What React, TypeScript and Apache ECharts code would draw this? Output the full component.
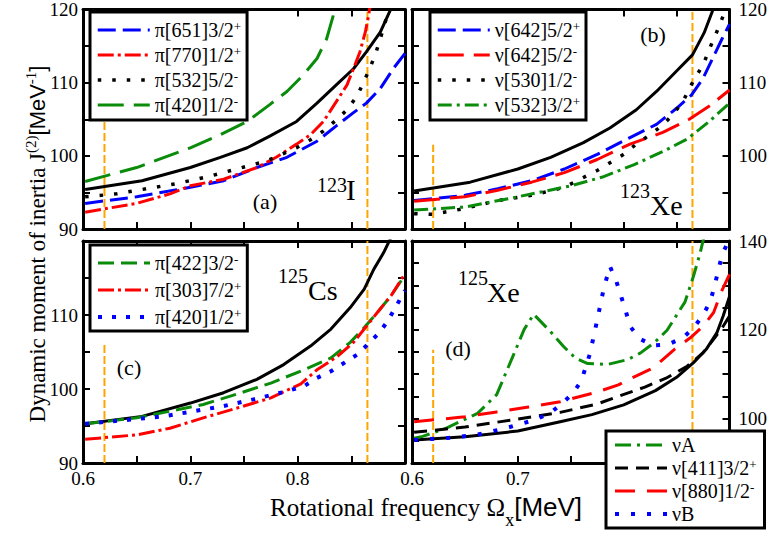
import React, { useEffect, useRef } from "react";
import * as echarts from "echarts";

const SERIF = '"Liberation Serif", "Times New Roman", Times, serif';
const SANS = '"Liberation Sans", Arial, Helvetica, sans-serif';

type Pt = [number, number];

// ---- axis ticks / labels ----
const X_MIN = 0.6;
const X_MAX = 0.9;
const X_STEP = 0.05;
const Y_STEP = 5;
const aLabelsY = [90, 100, 110, 120];
const bLabelsY = [100, 110, 120];
const cLabelsY = [90, 100, 110];
const dLabelsY = [100, 120, 140];
const cLabelsX = [0.6, 0.7, 0.8];
const dLabelsX = [0.6, 0.7];
const yRangeABC: Pt = [90, 120];
const yRangeD: Pt = [90, 140];

// ---- orange reference lines (x positions, top of the short left line per panel) ----
const orangeX = [0.62, 0.865];
const orangeLeftTop = [120, 101.5, 106, 115.5];

// ---- panel (a) 123I ----
const aYrast: Pt[] = [[0.602, 95.4], [0.655, 96.6], [0.7, 98.4], [0.728, 99.8], [0.753, 101.1], [0.774, 102.7], [0.799, 104.7], [0.818, 107.2], [0.836, 109.7], [0.852, 111.9], [0.864, 114.2], [0.877, 116.9], [0.886, 119.8], [0.889, 121]];
const aPi651: Pt[] = [[0.602, 93.5], [0.65, 94.4], [0.7, 95.7], [0.731, 96.6], [0.762, 98.4], [0.79, 99.8], [0.818, 102.0], [0.836, 104.1], [0.852, 105.9], [0.864, 107.2], [0.877, 109.2], [0.889, 111.9], [0.9, 114.0]];
const aPi770: Pt[] = [[0.602, 92.3], [0.65, 93.5], [0.681, 94.8], [0.7, 95.9], [0.731, 96.8], [0.762, 98.4], [0.78, 99.8], [0.799, 101.6], [0.812, 102.9], [0.824, 104.7], [0.836, 107.4], [0.846, 109.7], [0.852, 111.9], [0.858, 114.2], [0.863, 116.9], [0.866, 119.1], [0.868, 121]];
const aPi532: Pt[] = [[0.602, 94.4], [0.631, 94.8], [0.659, 95.5], [0.687, 96.2], [0.715, 97.1], [0.743, 98.2], [0.771, 99.3], [0.799, 101.1], [0.812, 102.2], [0.824, 103.4], [0.836, 104.9], [0.846, 106.3], [0.855, 108.1], [0.861, 109.9], [0.867, 111.9], [0.872, 113.7], [0.877, 116.0], [0.883, 119.0]];
const aPi420: Pt[] = [[0.602, 96.5], [0.65, 98.4], [0.7, 101.1], [0.728, 102.9], [0.753, 104.7], [0.774, 107.0], [0.79, 108.8], [0.805, 111.0], [0.818, 113.3], [0.827, 116.0], [0.833, 119.1], [0.835, 120.5]];

// ---- panel (b) 123Xe ----
const bYrast: Pt[] = [[0.602, 95.2], [0.655, 96.4], [0.7, 98.2], [0.731, 99.8], [0.762, 101.8], [0.787, 103.8], [0.812, 106.3], [0.831, 108.8], [0.85, 111.6], [0.865, 113.8], [0.876, 116.8], [0.885, 120.2]];
const bNu642p: Pt[] = [[0.602, 93.9], [0.65, 94.6], [0.681, 95.5], [0.713, 96.6], [0.744, 98.2], [0.775, 100.2], [0.806, 102.5], [0.831, 104.3], [0.85, 106.5], [0.864, 108.3], [0.875, 110.6], [0.884, 113.3], [0.893, 116.0], [0.9, 118.0]];
const bNu642m: Pt[] = [[0.602, 93.8], [0.65, 94.4], [0.681, 95.3], [0.713, 96.4], [0.744, 97.7], [0.775, 99.5], [0.806, 101.6], [0.837, 103.2], [0.862, 105.0], [0.881, 106.8], [0.9, 109.0]];
const bNu530: Pt[] = [[0.602, 92.1], [0.619, 92.0], [0.65, 92.8], [0.681, 93.9], [0.713, 94.6], [0.744, 95.7], [0.775, 98.0], [0.8, 100.2], [0.812, 101.6], [0.825, 102.9], [0.837, 104.2], [0.846, 105.6], [0.856, 107.4], [0.862, 109.2], [0.868, 110.8], [0.875, 112.4], [0.881, 114.6], [0.887, 116.6], [0.892, 118.4], [0.897, 120.2]];
const bNu532: Pt[] = [[0.602, 92.6], [0.65, 93.0], [0.7, 94.4], [0.75, 95.9], [0.78, 97.1], [0.81, 98.8], [0.84, 100.8], [0.86, 102.3], [0.88, 104.6], [0.9, 107.2]];

// ---- panel (c) 125Cs ----
const cYrast: Pt[] = [[0.602, 95.3], [0.655, 96.3], [0.7, 98.1], [0.731, 99.5], [0.762, 101.3], [0.787, 103.3], [0.812, 105.8], [0.831, 108.1], [0.849, 111.0], [0.862, 113.5], [0.871, 116.2], [0.88, 118.4], [0.887, 120.5]];
const cPi422: Pt[] = [[0.602, 95.3], [0.65, 96.1], [0.681, 97.0], [0.712, 97.9], [0.743, 99.3], [0.775, 100.8], [0.806, 102.6], [0.831, 104.2], [0.849, 106.3], [0.862, 108.3], [0.874, 110.3], [0.887, 112.6], [0.9, 115.4]];
const cPi303: Pt[] = [[0.602, 93.2], [0.65, 93.8], [0.681, 94.7], [0.712, 96.1], [0.743, 97.4], [0.775, 98.8], [0.803, 100.7], [0.818, 102.6], [0.837, 104.4], [0.852, 106.3], [0.862, 108.1], [0.874, 110.3], [0.887, 112.6], [0.9, 115.6]];
const cPi420: Pt[] = [[0.602, 95.3], [0.647, 95.9], [0.675, 96.3], [0.703, 97.0], [0.731, 97.7], [0.759, 98.6], [0.79, 99.7], [0.806, 100.4], [0.818, 101.5], [0.831, 102.4], [0.843, 103.5], [0.856, 104.7], [0.865, 106.0], [0.876, 107.6], [0.884, 109.2], [0.891, 111.0], [0.9, 113.3]];

// ---- panel (d) 125Xe ----
const dYrast: Pt[] = [[0.602, 95.2], [0.65, 95.9], [0.7, 97.2], [0.74, 99.3], [0.77, 100.9], [0.8, 103.1], [0.83, 106.3], [0.85, 109.3], [0.866, 112.6], [0.878, 115.6], [0.888, 119.3], [0.894, 123.1], [0.9, 127.5]];
const dNu411: Pt[] = [[0.602, 96.9], [0.65, 98.1], [0.7, 99.9], [0.74, 101.4], [0.775, 103.3], [0.795, 105.0], [0.82, 107.1], [0.84, 109.1], [0.86, 111.8], [0.875, 114.8], [0.886, 118.2], [0.894, 120.8], [0.9, 123.1]];
const dNu880: Pt[] = [[0.602, 99.3], [0.65, 100.4], [0.68, 101.5], [0.71, 102.6], [0.74, 103.8], [0.775, 106.0], [0.795, 107.6], [0.81, 109.4], [0.828, 111.4], [0.835, 112.9], [0.848, 115.6], [0.863, 118.2], [0.875, 120.8], [0.885, 123.9], [0.892, 128.4], [0.9, 132.5]];
const dNuA: Pt[] = [[0.602, 95.6], [0.61, 96.0], [0.632, 97.8], [0.662, 101.2], [0.68, 105.4], [0.696, 114.4], [0.706, 120.1], [0.715, 123.5], [0.732, 119.3], [0.743, 116.3], [0.754, 113.7], [0.766, 112.4], [0.785, 112.2], [0.804, 113.3], [0.816, 114.8], [0.829, 117.1], [0.841, 119.9], [0.858, 126.3], [0.866, 132.1], [0.872, 137.1], [0.876, 141]];
const dNuB: Pt[] = [[0.602, 95.2], [0.632, 95.6], [0.66, 96.3], [0.688, 97.8], [0.716, 99.7], [0.73, 101.2], [0.741, 103.2], [0.752, 105.7], [0.76, 108.5], [0.768, 114.5], [0.775, 122.2], [0.781, 129.1], [0.787, 134.3], [0.793, 131.0], [0.802, 124.2], [0.806, 120.8], [0.815, 118.0], [0.828, 116.5], [0.842, 116.7], [0.856, 118.2], [0.866, 120.4], [0.875, 123.3], [0.882, 126.5], [0.886, 130.0], [0.893, 136.9], [0.9, 140.5]];

// ---- legend names ----
const aNames = ["π[651]3/2+", "π[770]1/2+", "π[532]5/2-", "π[420]1/2-"];
const bNames = ["ν[642]5/2+", "ν[642]5/2-", "ν[530]1/2-", "ν[532]3/2+"];
const cNames = ["π[422]3/2-", "π[303]7/2+", "π[420]1/2+"];
const dNames = ["νA", "ν[411]3/2+", "ν[880]1/2-", "νB"];

const BLUE = "#0000ff";
const RED = "#ff0000";
const GREEN = "#0a8c0a";
const BLACK = "#000000";
const ORANGE = "#ffa500";

const fmtX = (labels: number[]) => (v: number) => {
  const r = Math.round(v * 100);
  return labels.some((l) => Math.round(l * 100) === r) ? (r / 100).toFixed(1) : "";
};
const fmtY = (labels: number[]) => (v: number) => {
  const r = Math.round(v);
  return Math.abs(v - r) < 1e-6 && labels.includes(r) ? String(r) : "";
};

const tickStyle = {
  axisLine: { show: true, onZero: false, lineStyle: { color: BLACK, width: 3 } },
  axisTick: { show: true, inside: true, length: 7, lineStyle: { color: BLACK, width: 2 } },
  splitLine: { show: false },
};

const mkX = (gi: number, pos: string, labels: number[]) => ({
  type: "value",
  gridIndex: gi,
  position: pos,
  min: X_MIN,
  max: X_MAX,
  interval: X_STEP,
  ...tickStyle,
  axisLabel: {
    show: labels.length > 0,
    margin: 6,
    fontFamily: SERIF,
    fontSize: 19,
    color: BLACK,
    formatter: fmtX(labels),
  },
});

const mkY = (gi: number, pos: string, range: Pt, labels: number[]) => ({
  type: "value",
  gridIndex: gi,
  position: pos,
  min: range[0],
  max: range[1],
  interval: Y_STEP,
  ...tickStyle,
  axisLabel: {
    show: labels.length > 0,
    margin: pos === "left" ? 5 : 9,
    fontFamily: SERIF,
    fontSize: 19,
    color: BLACK,
    formatter: fmtY(labels),
  },
});

const mkLine = (gi: number, name: string, data: Pt[], color: string, type: any, width = 3, z = 2) => ({
  type: "line",
  name,
  xAxisIndex: gi,
  yAxisIndex: gi,
  data,
  symbol: "none",
  showSymbol: false,
  smooth: false,
  clip: true,
  silent: true,
  z,
  lineStyle: { color, width, type, cap: "butt", join: "round" },
  itemStyle: { color },
  emphasis: { disabled: true },
});

const mkOrange = (gi: number, x: number, top: number, name: string) =>
  mkLine(gi, name, [[x, 90], [x, top]], ORANGE, [8, 3], 2, 1);

const mkLegend = (names: string[], left: number, top: number, padding: number[], itemGap: number) => ({
  data: names,
  orient: "vertical",
  left,
  top,
  padding,
  itemGap,
  itemWidth: 52,
  itemHeight: 14,
  backgroundColor: "#ffffff",
  borderColor: BLACK,
  borderWidth: 3,
  borderRadius: 0,
  selectedMode: false,
  itemStyle: { opacity: 0 },
  lineStyle: { width: "inherit" },
  textStyle: {
    fontFamily: SERIF,
    fontSize: 20,
    color: BLACK,
    lineHeight: 20,
    rich: {
      t: { fontFamily: SERIF, fontSize: 20, lineHeight: 20, color: BLACK },
      s: { fontFamily: SERIF, fontSize: 13, lineHeight: 6, verticalAlign: "top", color: BLACK },
    },
  },
  formatter: (n: string) => {
    const last = n.slice(-1);
    if (last === "+" || last === "-") return "{t|" + n.slice(0, -1) + "}{s|" + last + "}";
    return "{t|" + n + "}";
  },
});

const txt = (x: number, y: number, text: string, fontSize: number, align = "left") => ({
  type: "text",
  x,
  y,
  silent: true,
  z: 10,
  style: { text, fontFamily: SERIF, fontSize, fill: BLACK, align, verticalAlign: "middle" },
});

export default function App() {
  const ref = useRef<HTMLDivElement>(null);

  useEffect(() => {
    if (!ref.current) return;
    const chart = echarts.init(ref.current, null, { renderer: "svg" });

    const grids = [
      { left: 83, top: 6, width: 322, height: 223 },
      { left: 412, top: 6, width: 321, height: 223 },
      { left: 83, top: 241, width: 322, height: 222 },
      { left: 412, top: 241, width: 321, height: 222 },
    ];

    const option: any = {
      animation: false,
      backgroundColor: "#ffffff",
      grid: grids.map((g) => ({ ...g, containLabel: false })),
      xAxis: [
        mkX(0, "bottom", []),
        mkX(1, "bottom", []),
        mkX(2, "bottom", cLabelsX),
        mkX(3, "bottom", dLabelsX),
        mkX(0, "top", []),
        mkX(1, "top", []),
        mkX(2, "top", []),
        mkX(3, "top", []),
      ],
      yAxis: [
        mkY(0, "left", yRangeABC, aLabelsY),
        mkY(1, "left", yRangeABC, []),
        mkY(2, "left", yRangeABC, cLabelsY),
        mkY(3, "left", yRangeD, []),
        mkY(0, "right", yRangeABC, []),
        mkY(1, "right", yRangeABC, bLabelsY),
        mkY(2, "right", yRangeABC, []),
        mkY(3, "right", yRangeD, dLabelsY),
      ],
      legend: [
        mkLegend(aNames, 90, 12, [8, 6, 5, 6], 5),
        mkLegend(bNames, 430, 12, [8, 6, 5, 6], 5),
        mkLegend(cNames, 90, 245, [8, 6, 4, 6], 7),
        mkLegend(dNames, 606, 431, [4, 8, 4, 7], 3),
      ],
      series: [
        mkOrange(0, orangeX[0], orangeLeftTop[0], "oa1"),
        mkOrange(0, orangeX[1], 120, "oa2"),
        mkOrange(1, orangeX[0], orangeLeftTop[1], "ob1"),
        mkOrange(1, orangeX[1], 120, "ob2"),
        mkOrange(2, orangeX[0], orangeLeftTop[2], "oc1"),
        mkOrange(2, orangeX[1], 120, "oc2"),
        mkOrange(3, orangeX[0], orangeLeftTop[3], "od1"),
        mkOrange(3, orangeX[1], 140, "od2"),

        mkLine(0, "a-yrast", aYrast, BLACK, "solid", 3),
        mkLine(0, aNames[0], aPi651, BLUE, [18, 7], 3),
        mkLine(0, aNames[1], aPi770, RED, [16, 4, 3, 4], 3),
        mkLine(0, aNames[2], aPi532, BLACK, [3.5, 11], 3.5),
        mkLine(0, aNames[3], aPi420, GREEN, [26, 10], 3),

        mkLine(1, "b-yrast", bYrast, BLACK, "solid", 3),
        mkLine(1, bNames[0], bNu642p, BLUE, [18, 7], 3),
        mkLine(1, bNames[1], bNu642m, RED, [26, 10], 3),
        mkLine(1, bNames[2], bNu530, BLACK, [3.5, 11], 3.5),
        mkLine(1, bNames[3], bNu532, GREEN, [14, 5, 3, 5], 3),

        mkLine(2, "c-yrast", cYrast, BLACK, "solid", 3),
        mkLine(2, cNames[0], cPi422, GREEN, [16, 7], 3),
        mkLine(2, cNames[1], cPi303, RED, [16, 4, 3, 4], 3),
        mkLine(2, cNames[2], cPi420, BLUE, [4, 10], 4),

        mkLine(3, "d-yrast", dYrast, BLACK, "solid", 3),
        mkLine(3, dNames[0], dNuA, GREEN, [16, 6, 3, 6], 3),
        mkLine(3, dNames[1], dNu411, BLACK, [13, 8], 3),
        mkLine(3, dNames[2], dNu880, RED, [20, 12], 3),
        mkLine(3, dNames[3], dNuB, BLUE, [4, 12], 4),
      ],
      graphic: [
        txt(265, 201, "(a)", 22, "center"),
        txt(653, 34, "(b)", 22, "center"),
        txt(129, 367, "(c)", 22, "center"),
        txt(458, 348, "(d)", 22, "center"),
        txt(317, 185, "123", 20),
        txt(346, 190, "I", 29),
        txt(620, 191, "123", 20),
        txt(650, 205, "Xe", 28),
        txt(278, 276, "125", 20),
        txt(308, 290, "Cs", 28),
        txt(458, 278, "125", 20),
        txt(487, 292, "Xe", 28),
        {
          type: "text",
          x: 270,
          y: 507,
          silent: true,
          style: {
            text: "{t|Rotational frequency Ω}{b|x}{u|[MeV]}",
            align: "left",
            verticalAlign: "middle",
            fill: BLACK,
            rich: {
              t: { fontFamily: SERIF, fontSize: 25, lineHeight: 44, fill: BLACK, color: BLACK },
              b: { fontFamily: SERIF, fontSize: 18, lineHeight: 12, verticalAlign: "bottom", fill: BLACK, color: BLACK },
              u: { fontFamily: SANS, fontSize: 26, lineHeight: 44, fill: BLACK, color: BLACK },
            },
          },
        },
        {
          type: "text",
          x: 37,
          y: 244,
          rotation: Math.PI / 2,
          silent: true,
          style: {
            text: "{t|Dynamic moment of inertia J}{s|(2)}{u|[MeV}{s|-1}{u|]}",
            align: "center",
            verticalAlign: "middle",
            fill: BLACK,
            rich: {
              t: { fontFamily: SERIF, fontSize: 23, lineHeight: 28, fill: BLACK, color: BLACK },
              s: { fontFamily: SERIF, fontSize: 15, lineHeight: 11, verticalAlign: "top", fill: BLACK, color: BLACK },
              u: { fontFamily: SANS, fontSize: 22, lineHeight: 28, fill: BLACK, color: BLACK },
            },
          },
        },
      ],
    };

    chart.setOption(option);
    return () => chart.dispose();
  }, []);

  return (
    <div
      ref={ref}
      style={{ position: "fixed", left: 0, top: 0, width: 770, height: 533, background: "#fff" }}
    />
  );
}
